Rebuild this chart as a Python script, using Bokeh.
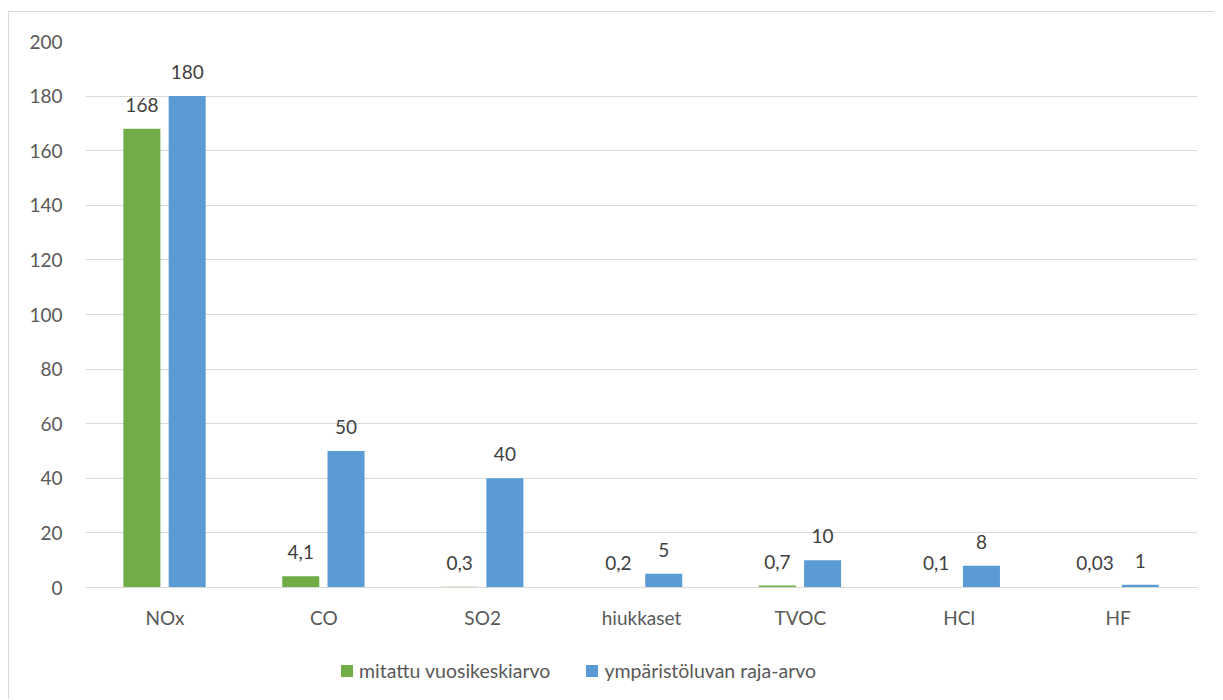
from bokeh.plotting import figure
from bokeh.models import ColumnDataSource, LabelSet, Legend, LegendItem, FactorRange, Range1d
from bokeh.layouts import column
from bokeh.transform import dodge
from bokeh.core.properties import value
from bokeh.embed import file_html
from bokeh.resources import INLINE

categories = ["NOx", "CO", "SO2", "hiukkaset", "TVOC", "HCl", "HF"]
measured = [168, 4.1, 0.3, 0.2, 0.7, 0.1, 0.03]
limit = [180, 50, 40, 5, 10, 8, 1]
series_names = ["mitattu vuosikeskiarvo", "ympäristöluvan raja-arvo"]
y_ticks = [0, 20, 40, 60, 80, 100, 120, 140, 160, 180, 200]

def fmt(v):
    return ("%g" % v).replace(".", ",")

src = ColumnDataSource(dict(
    cat=categories,
    m=measured,
    l=limit,
    m_lab=[fmt(v) for v in measured],
    l_lab=[fmt(v) for v in limit],
))

GREEN = "#70ad47"
BLUE = "#5b9bd5"
TXT = "#595959"
FONT = "Lato"
FS = "19px"

W = 1205
p = figure(x_range=FactorRange(*categories, range_padding=0), y_range=(0, 200),
           width=W, height=630, output_backend="svg", toolbar_location=None,
           min_border_left=76, min_border_right=17, min_border_top=29, min_border_bottom=55)
p.outline_line_color = None

p.vbar(x=dodge("cat", -0.145, range=p.x_range), top="m", width=0.233, source=src,
       fill_color=GREEN, line_color=None)
p.vbar(x=dodge("cat", 0.14, range=p.x_range), top="l", width=0.233, source=src,
       fill_color=BLUE, line_color=None)

for col, lab, off in (("m", "m_lab", -0.145), ("l", "l_lab", 0.14)):
    p.add_layout(LabelSet(x=dodge("cat", off, range=p.x_range), y=col, text=lab, source=src,
                          y_offset=17, text_align="center", text_baseline="bottom",
                          text_font=value(FONT), text_font_size=value(FS),
                          text_color="#404040"))

p.xgrid.grid_line_color = None
p.ygrid.grid_line_color = "#d9d9d9"
p.ygrid.grid_line_width = 1

p.yaxis.ticker = y_ticks
p.yaxis.axis_line_color = None
p.yaxis.major_tick_line_color = None
p.yaxis.minor_tick_line_color = None
p.yaxis.major_label_text_font = FONT
p.yaxis.major_label_text_font_size = FS
p.yaxis.major_label_text_color = TXT
p.yaxis.major_label_standoff = 17

p.xaxis.axis_line_color = "#d9d9d9"
p.xaxis.axis_line_width = 1
p.xaxis.major_tick_line_color = None
p.xaxis.minor_tick_line_color = None
p.xaxis.major_label_text_font = FONT
p.xaxis.major_label_text_font_size = FS
p.xaxis.major_label_text_color = TXT
p.xaxis.major_label_standoff = 12

# legend strip
q = figure(x_range=Range1d(0, 1), y_range=Range1d(0, 1), width=W, height=57,
           output_backend="svg", toolbar_location=None,
           min_border_left=0, min_border_right=0, min_border_top=0, min_border_bottom=0)
q.outline_line_color = None
q.axis.visible = False
q.grid.grid_line_color = None
rg = q.vbar(x=[-10], top=[-10], bottom=[-11], width=0.1, fill_color=GREEN, line_color=None)
rb = q.vbar(x=[-10], top=[-10], bottom=[-11], width=0.1, fill_color=BLUE, line_color=None)
legend = Legend(items=[LegendItem(label=series_names[0], renderers=[rg]),
                       LegendItem(label=series_names[1], renderers=[rb])],
                orientation="horizontal", location=(254, 17),
                label_text_font=FONT, label_text_font_size="19.5px", label_text_color=TXT,
                glyph_width=15, glyph_height=15, label_standoff=5, spacing=34,
                border_line_color=None, background_fill_alpha=0, margin=0, padding=4)
q.add_layout(legend, "center")

layout = column(p, q, spacing=0)
layout.styles = {"border-top": "1px solid #d9d9d9", "border-left": "1px solid #d9d9d9",
                 "margin-top": "11px", "margin-left": "8px"}

open("out.html", "w").write(file_html(layout, INLINE))
